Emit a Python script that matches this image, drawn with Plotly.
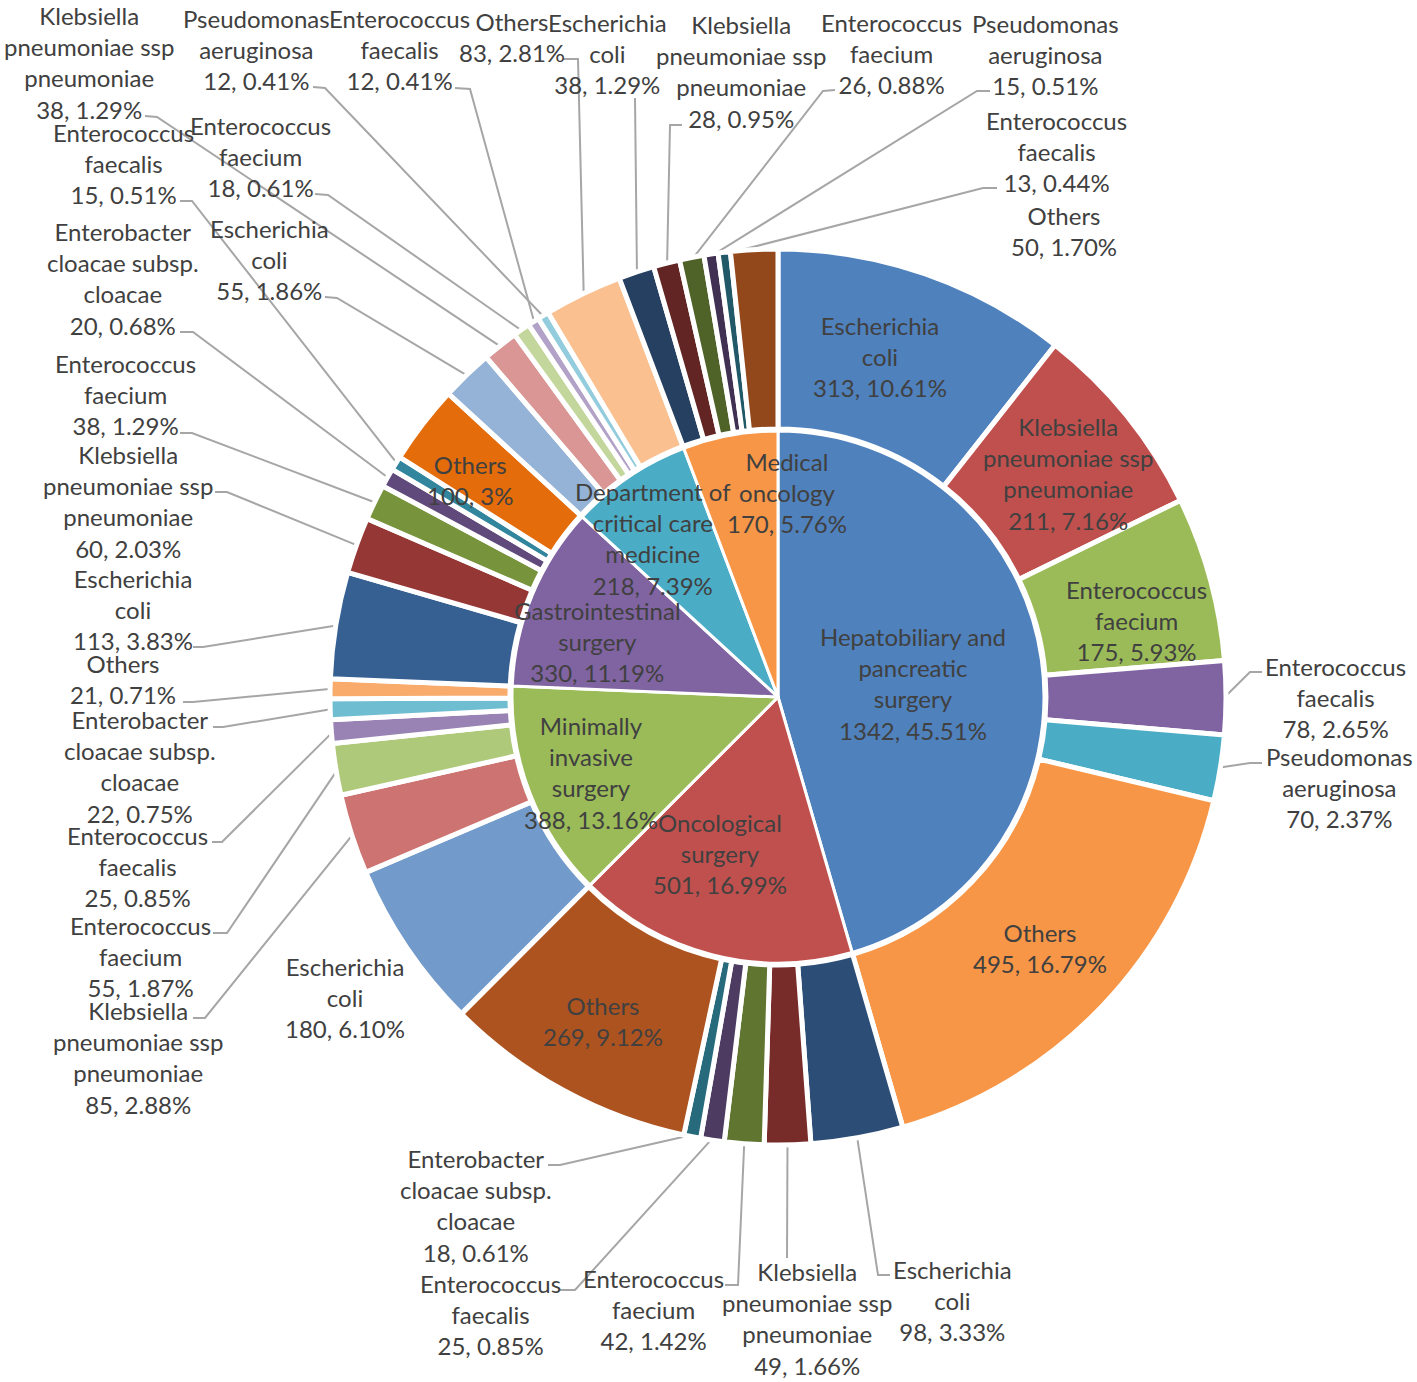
import math
import plotly.graph_objects as go

# ---------------- DATA ----------------
departments = ["Hepatobiliary and pancreatic surgery", "Oncological surgery",
               "Minimally invasive surgery", "Gastrointestinal surgery",
               "Department of critical care medicine", "Medical oncology"]
dept_counts = [1342, 501, 388, 330, 218, 170]
dept_pct = ["45.51%", "16.99%", "13.16%", "11.19%", "7.39%", "5.76%"]

hepato_species = ["Escherichia coli", "Klebsiella pneumoniae ssp pneumoniae", "Enterococcus faecium",
                  "Enterococcus faecalis", "Pseudomonas aeruginosa", "Others"]
hepato_counts = [313, 211, 175, 78, 70, 495]
hepato_pct = ["10.61%", "7.16%", "5.93%", "2.65%", "2.37%", "16.79%"]

onco_species = ["Escherichia coli", "Klebsiella pneumoniae ssp pneumoniae", "Enterococcus faecium",
                "Enterococcus faecalis", "Enterobacter cloacae subsp. cloacae", "Others"]
onco_counts = [98, 49, 42, 25, 18, 269]
onco_pct = ["3.33%", "1.66%", "1.42%", "0.85%", "0.61%", "9.12%"]

mini_species = ["Escherichia coli", "Klebsiella pneumoniae ssp pneumoniae", "Enterococcus faecium",
                "Enterococcus faecalis", "Enterobacter cloacae subsp. cloacae", "Others"]
mini_counts = [180, 85, 55, 25, 22, 21]
mini_pct = ["6.10%", "2.88%", "1.87%", "0.85%", "0.75%", "0.71%"]

gastro_species = ["Escherichia coli", "Klebsiella pneumoniae ssp pneumoniae", "Enterococcus faecium",
                  "Enterobacter cloacae subsp. cloacae", "Enterococcus faecalis", "Others"]
gastro_counts = [113, 60, 38, 20, 15, 84]          # slice sizes (sum = 330)
gastro_printed = [113, 60, 38, 20, 15, 100]        # numbers as printed on the chart
gastro_pct = ["3.83%", "2.03%", "1.29%", "0.68%", "0.51%", "3%"]

crit_species = ["Escherichia coli", "Klebsiella pneumoniae ssp pneumoniae", "Enterococcus faecium",
                "Enterococcus faecalis", "Pseudomonas aeruginosa", "Others"]
crit_counts = [55, 38, 18, 12, 12, 83]
crit_pct = ["1.86%", "1.29%", "0.61%", "0.41%", "0.41%", "2.81%"]

medonc_species = ["Escherichia coli", "Klebsiella pneumoniae ssp pneumoniae", "Enterococcus faecium",
                  "Pseudomonas aeruginosa", "Enterococcus faecalis", "Others"]
medonc_counts = [38, 28, 26, 15, 13, 50]
medonc_pct = ["1.29%", "0.95%", "0.88%", "0.51%", "0.44%", "1.70%"]

# ---------------- STYLE / LAYOUT ----------------
W, H = 1417, 1382
CX, CY = 778, 697
R_IN = 266
R_OUT = 448
R_HOLE = 268
R_TIP = 446
FONT = dict(family="Lato", size=24, color="#404040")
LINE_COLOR = "#A6A6A6"

dept_colors = ["#4F81BD", "#C0504D", "#9BBB59", "#8064A2", "#4BACC6", "#F79646"]
group_colors = [
    ["#4F81BD", "#C0504D", "#9BBB59", "#8064A2", "#4BACC6", "#F79646"],
    ["#2C4D75", "#772C2A", "#5F7530", "#4D3B62", "#276A7C", "#AD5320"],
    ["#729ACA", "#CD7371", "#AFC97A", "#9983B5", "#6FBDD1", "#F9AB6B"],
    ["#376092", "#953735", "#77933C", "#604A7B", "#31859C", "#E46C0A"],
    ["#95B3D7", "#D99694", "#C3D69B", "#B3A2C7", "#93CDDD", "#FAC090"],
    ["#254061", "#632523", "#4F6228", "#403152", "#215968", "#93481C"],
]

wrap = {
    "Hepatobiliary and pancreatic surgery": "Hepatobiliary and<br>pancreatic<br>surgery",
    "Oncological surgery": "Oncological<br>surgery",
    "Minimally invasive surgery": "Minimally<br>invasive<br>surgery",
    "Gastrointestinal surgery": "Gastrointestinal<br>surgery",
    "Department of critical care medicine": "Department of<br>critical care<br>medicine",
    "Medical oncology": "Medical<br>oncology",
    "Escherichia coli": "Escherichia<br>coli",
    "Klebsiella pneumoniae ssp pneumoniae": "Klebsiella<br>pneumoniae ssp<br>pneumoniae",
    "Enterococcus faecium": "Enterococcus<br>faecium",
    "Enterococcus faecalis": "Enterococcus<br>faecalis",
    "Pseudomonas aeruginosa": "Pseudomonas<br>aeruginosa",
    "Enterobacter cloacae subsp. cloacae": "Enterobacter<br>cloacae subsp.<br>cloacae",
    "Others": "Others",
}

inner_label_pos = [(913, 683), (720, 853), (591, 772), (597, 641), (653, 538), (787, 492)]

# label centre for each outer slice, per group
outer_label_pos = [
    [(880, 356), (1068, 473), (1136, 620), (1335, 697), (1339, 787), (1040, 948)],
    [(952, 1300), (807, 1318), (653, 1309), (490, 1314), (476, 1205), (603, 1021)],
    [(345, 997), (138, 1057), (140, 956), (137, 866), (140, 766), (123, 679)],
    [(133, 609), (128, 501), (125, 394), (123, 278), (123, 163), (470, 480)],
    [(269, 259), (89, 62), (260, 156), (399, 49), (256, 49), (512, 37)],
    [(607, 53), (741, 71), (891, 53), (1045, 54), (1056, 151), (1064, 231)],
]
# leader lines: (attach point at text, elbow point)
leaders = {
    (0, 3): ((1262, 672), (1250, 672)), (0, 4): ((1262, 763), (1250, 763)),
    (1, 0): ((890, 1275), (878, 1275)), (1, 1): ((787, 1258), (787, 1258)),
    (1, 2): ((725, 1285), (738, 1285)), (1, 3): ((560, 1290), (575, 1290)),
    (1, 4): ((548, 1165), (560, 1165)),
    (2, 1): ((193, 1018), (205, 1018)), (2, 2): ((213, 933), (227, 933)),
    (2, 3): ((212, 842), (222, 842)), (2, 4): ((213, 727), (223, 727)),
    (2, 5): ((183, 702), (193, 702)),
    (3, 0): ((193, 647), (203, 647)), (3, 1): ((215, 492), (227, 492)),
    (3, 2): ((180, 433), (192, 433)), (3, 3): ((180, 332), (193, 332)),
    (3, 4): ((180, 201), (192, 201)),
    (4, 0): ((325, 297), (337, 298)), (4, 1): ((145, 116), (157, 117)),
    (4, 2): ((315, 194), (328, 195)), (4, 3): ((455, 88), (470, 89)),
    (4, 4): ((313, 87), (325, 88)), (4, 5): ((563, 59), (578, 59)),
    (5, 0): ((635, 98), (635, 98)), (5, 1): ((682, 125), (670, 125)),
    (5, 2): ((835, 90), (823, 91)), (5, 3): ((990, 91), (977, 91)),
    (5, 4): ((997, 188), (983, 188)),
}

# ---------------- BUILD ----------------
groups = [
    (hepato_species, hepato_counts, hepato_counts, hepato_pct),
    (onco_species, onco_counts, onco_counts, onco_pct),
    (mini_species, mini_counts, mini_counts, mini_pct),
    (gastro_species, gastro_counts, gastro_printed, gastro_pct),
    (crit_species, crit_counts, crit_counts, crit_pct),
    (medonc_species, medonc_counts, medonc_counts, medonc_pct),
]

outer_ids, outer_vals, outer_cols = [], [], []
for gi, (sp, cnt, _, _) in enumerate(groups):
    for si, (s, c) in enumerate(zip(sp, cnt)):
        outer_ids.append(f"{departments[gi]} | {s}")
        outer_vals.append(c)
        outer_cols.append(group_colors[gi][si])


def dom(r):
    return dict(x=[(CX - r) / W, (CX + r) / W], y=[1 - (CY + r) / H, 1 - (CY - r) / H])


fig = go.Figure()
fig.add_trace(go.Pie(values=outer_vals, labels=outer_ids, sort=False, direction="clockwise",
                     rotation=0, hole=R_HOLE / R_OUT, textinfo="none", hoverinfo="label+value",
                     marker=dict(colors=outer_cols, line=dict(color="white", width=5)),
                     domain=dom(R_OUT), showlegend=False))
fig.add_trace(go.Pie(values=dept_counts, labels=departments, sort=False, direction="clockwise",
                     rotation=0, textinfo="none", hoverinfo="label+value",
                     marker=dict(colors=dept_colors, line=dict(color="white", width=3)),
                     domain=dom(R_IN), showlegend=False))

annotations = []
for i, d in enumerate(departments):
    x, y = inner_label_pos[i]
    annotations.append(dict(x=x, y=y, xref="x", yref="y", showarrow=False, font=FONT,
                            text=f"{wrap[d]}<br>{dept_counts[i]}, {dept_pct[i]}",
                            xanchor="center", yanchor="middle", align="center"))

total = sum(outer_vals)
lx, ly = [], []
cum = 0
for gi, (sp, cnt, printed, pct) in enumerate(groups):
    for si in range(len(sp)):
        mid = (cum + cnt[si] / 2) / total * 2 * math.pi
        cum += cnt[si]
        x, y = outer_label_pos[gi][si]
        annotations.append(dict(x=x, y=y, xref="x", yref="y", showarrow=False, font=FONT,
                                text=f"{wrap[sp[si]]}<br>{printed[si]}, {pct[si]}",
                                xanchor="center", yanchor="middle", align="center"))
        if (gi, si) in leaders:
            tip = (CX + R_TIP * math.sin(mid), CY - R_TIP * math.cos(mid))
            attach, elbow = leaders[(gi, si)]
            lx += [tip[0], elbow[0], attach[0], None]
            ly += [tip[1], elbow[1], attach[1], None]

fig.add_trace(go.Scatter(x=lx, y=ly, mode="lines", line=dict(color=LINE_COLOR, width=2),
                         hoverinfo="skip", showlegend=False))

fig.update_layout(
    width=W, height=H, margin=dict(l=0, r=0, t=0, b=0),
    paper_bgcolor="white", plot_bgcolor="white",
    xaxis=dict(range=[0, W], visible=False, fixedrange=True),
    yaxis=dict(range=[H, 0], visible=False, fixedrange=True),
    annotations=annotations, showlegend=False,
)

fig.write_html("out.html", config={"displayModeBar": False},
               post_script="document.body.style.margin='0';document.body.style.overflow='hidden';")
